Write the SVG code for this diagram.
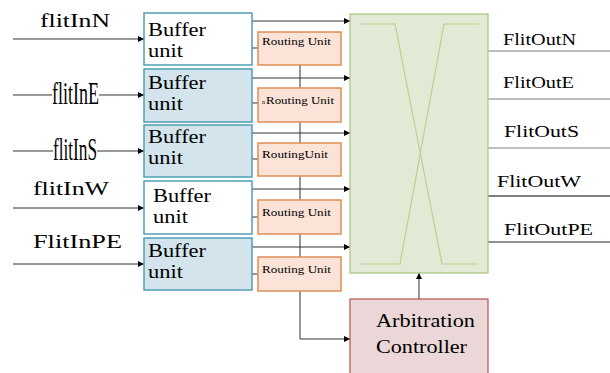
<svg xmlns="http://www.w3.org/2000/svg" width="610" height="373" viewBox="0 0 610 373">
<style>
text{font-family:"Liberation Serif","Times New Roman",serif;fill:#000}
.buf{stroke:#4f9fb5;stroke-width:1.5}
.bw{fill:#ffffff}
.bb{fill:#d3e4ec}
.ru{fill:#fce3d7;stroke:#dd8f56;stroke-width:1.5}
.bt{font-size:19px}
.rt{font-size:11px}
.in{font-size:19px}
.out{font-size:17px}
.ln{stroke:#333;stroke-width:1;fill:none}
</style>
<defs>
<marker id="ah" viewBox="0 0 6 6" refX="6" refY="3" markerWidth="6" markerHeight="6" markerUnits="userSpaceOnUse" orient="auto">
<path d="M0,0 L6,3 L0,6 z" fill="#000"/>
</marker>
</defs>

<g id="connectors">
<line class="ln" x1="13" y1="39" x2="144" y2="39" marker-end="url(#ah)"/>
<line class="ln" x1="13" y1="95" x2="52" y2="95" stroke="#555"/>
<line class="ln" x1="99" y1="95" x2="144" y2="95" stroke="#000" marker-end="url(#ah)"/>
<line class="ln" x1="13" y1="151" x2="53" y2="151" stroke="#555" stroke-width="1.5"/>
<line class="ln" x1="97" y1="151" x2="144" y2="151" marker-end="url(#ah)"/>
<line class="ln" x1="13" y1="208" x2="144" y2="208" marker-end="url(#ah)"/>
<line class="ln" x1="13" y1="264" x2="144" y2="264" marker-end="url(#ah)"/>
<line class="ln" x1="252" y1="21" x2="350" y2="21" marker-end="url(#ah)"/>
<line class="ln" x1="252" y1="78" x2="350" y2="78" marker-end="url(#ah)"/>
<line class="ln" x1="252" y1="133" x2="350" y2="133" stroke-width="1.5" marker-end="url(#ah)"/>
<line class="ln" x1="252" y1="189" x2="350" y2="189" marker-end="url(#ah)"/>
<line class="ln" x1="252" y1="247" x2="350" y2="247" marker-end="url(#ah)"/>
<line class="ln" x1="252" y1="48" x2="258" y2="48" stroke="#777"/>
<line class="ln" x1="252" y1="103" x2="258" y2="103" stroke="#777"/>
<line class="ln" x1="252" y1="159" x2="258" y2="159" stroke-width="1.5"/>
<line class="ln" x1="252" y1="217" x2="258" y2="217" stroke-width="1.5"/>
<line class="ln" x1="252" y1="274" x2="258" y2="274" stroke="#777"/>
<polyline class="ln" points="300,65 300,339 350,339" marker-end="url(#ah)"/>
<line class="ln" x1="419" y1="299" x2="419" y2="273" marker-end="url(#ah)"/>
<line x1="488" y1="51" x2="610" y2="51" stroke="#808080" stroke-width="1.2"/>
<line x1="488" y1="99" x2="610" y2="99" stroke="#808080" stroke-width="1.2"/>
<line x1="488" y1="148" x2="610" y2="148" stroke="#808080" stroke-width="1.2"/>
<line x1="488" y1="196" x2="610" y2="196" stroke="#000" stroke-width="1.2"/>
<line x1="488" y1="242" x2="610" y2="242" stroke="#222" stroke-width="1.2"/>
</g>

<g id="labels-in">
<text class="in" x="40" y="27" textLength="70" lengthAdjust="spacingAndGlyphs">flitInN</text>
<text x="52" y="104" font-size="31" textLength="47" lengthAdjust="spacingAndGlyphs">flitInE</text>
<text x="53" y="160" font-size="31" textLength="44" lengthAdjust="spacingAndGlyphs">flitInS</text>
<text class="in" x="33" y="195" textLength="76" lengthAdjust="spacingAndGlyphs">flitInW</text>
<text class="in" x="33" y="248" textLength="89" lengthAdjust="spacingAndGlyphs">FlitInPE</text>
</g>

<g id="buffer1">
<rect class="buf bw" x="144" y="13" width="108" height="52"/>
<text class="bt" x="148" y="36" textLength="58" lengthAdjust="spacingAndGlyphs">Buffer</text>
<text class="bt" x="148" y="57" textLength="35" lengthAdjust="spacingAndGlyphs">unit</text>
</g>
<g id="buffer2">
<rect class="buf bb" x="144" y="69" width="108" height="53"/>
<text class="bt" x="148" y="89" textLength="58" lengthAdjust="spacingAndGlyphs">Buffer</text>
<text class="bt" x="148" y="110" textLength="35" lengthAdjust="spacingAndGlyphs">unit</text>
</g>
<g id="buffer3">
<rect class="buf bb" x="144" y="125" width="108" height="52"/>
<text class="bt" x="148" y="143" textLength="58" lengthAdjust="spacingAndGlyphs">Buffer</text>
<text class="bt" x="148" y="164" textLength="35" lengthAdjust="spacingAndGlyphs">unit</text>
</g>
<g id="buffer4">
<rect class="buf bw" x="144" y="181" width="108" height="53" stroke="#3b7f92"/>
<text class="bt" x="153" y="202" textLength="58" lengthAdjust="spacingAndGlyphs">Buffer</text>
<text class="bt" x="153" y="223" textLength="35" lengthAdjust="spacingAndGlyphs">unit</text>
</g>
<g id="buffer5">
<rect class="buf bb" x="144" y="238" width="108" height="52"/>
<text class="bt" x="148" y="257" textLength="58" lengthAdjust="spacingAndGlyphs">Buffer</text>
<text class="bt" x="148" y="278" textLength="35" lengthAdjust="spacingAndGlyphs">unit</text>
</g>

<g id="routing1">
<rect class="ru" x="258" y="32" width="83" height="33"/>
<text class="rt" x="262" y="45" textLength="69" lengthAdjust="spacingAndGlyphs">Routing Unit</text>
</g>
<g id="routing2">
<rect class="ru" x="258" y="88" width="83" height="34"/>
<text x="262" y="104" font-size="6">n</text>
<text class="rt" x="266" y="104" textLength="68" lengthAdjust="spacingAndGlyphs">Routing Unit</text>
</g>
<g id="routing3">
<rect class="ru" x="258" y="143" width="83" height="33"/>
<text class="rt" x="262" y="158" textLength="66" lengthAdjust="spacingAndGlyphs">RoutingUnit</text>
</g>
<g id="routing4">
<rect class="ru" x="258" y="200" width="83" height="34"/>
<text class="rt" x="262" y="216" textLength="69" lengthAdjust="spacingAndGlyphs">Routing Unit</text>
</g>
<g id="routing5">
<rect class="ru" x="258" y="257" width="83" height="34"/>
<text class="rt" x="262" y="273" textLength="69" lengthAdjust="spacingAndGlyphs">Routing Unit</text>
</g>

<g id="crossbar">
<rect x="350" y="14" width="138" height="259" fill="#e2ead6" stroke="#a9c47f" stroke-width="1.2"/>
<polyline points="360,24 395,24 442,264 478,264" fill="none" stroke="#b7d192" stroke-width="1.2"/>
<polyline points="479,24 444,24 400,264 360,264" fill="none" stroke="#b7d192" stroke-width="1.2"/>
</g>

<g id="arbitration">
<rect x="350" y="299" width="138" height="76" fill="#ecd7d8" stroke="#b8504d" stroke-width="1.2"/>
<text x="376" y="327" font-size="18" textLength="99" lengthAdjust="spacingAndGlyphs">Arbitration</text>
<text x="376" y="353" font-size="18" textLength="91" lengthAdjust="spacingAndGlyphs">Controller</text>
</g>

<g id="labels-out">
<text class="out" x="503" y="45" textLength="73" lengthAdjust="spacingAndGlyphs">FlitOutN</text>
<text class="out" x="503" y="88" textLength="71" lengthAdjust="spacingAndGlyphs">FlitOutE</text>
<text class="out" x="504" y="137" textLength="75" lengthAdjust="spacingAndGlyphs">FlitOutS</text>
<text class="out" x="497" y="187" textLength="84" lengthAdjust="spacingAndGlyphs">FlitOutW</text>
<text class="out" x="504" y="235" textLength="89" lengthAdjust="spacingAndGlyphs">FlitOutPE</text>
</g>
</svg>
